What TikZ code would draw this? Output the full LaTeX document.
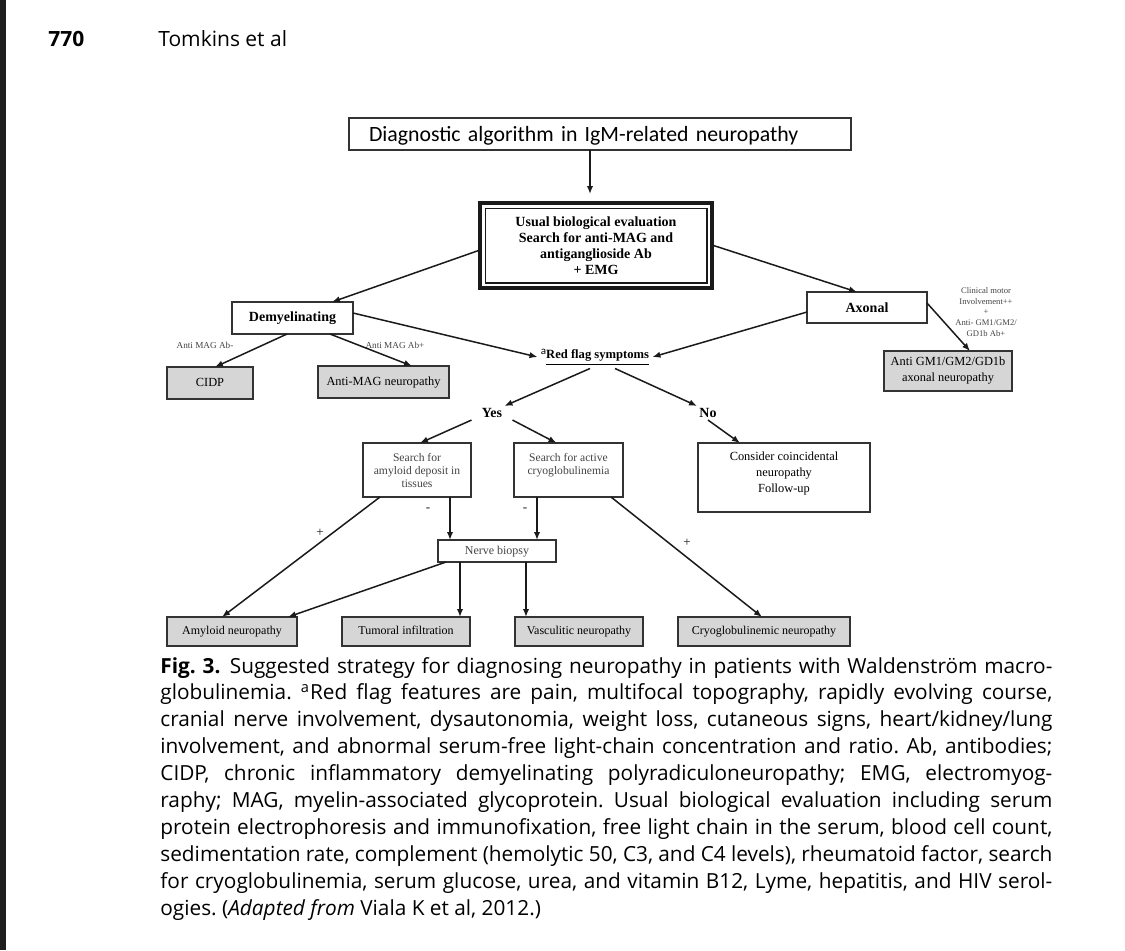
\documentclass[tikz,border=0pt]{standalone}
\usepackage{fontspec}
\setmainfont{Liberation Serif}
\newfontfamily\capfont{Open Sans}
\newfontfamily\ttlfont{Carlito}
\usetikzlibrary{arrows.meta}
\definecolor{linec}{HTML}{1A1A1A}
\definecolor{boxc}{HTML}{333333}
\definecolor{grayf}{HTML}{D6D6D6}
\definecolor{stripc}{HTML}{1E1E1E}
\definecolor{lblc}{HTML}{444444}
\newcommand{\fs}[2]{\fontsize{#1}{#2}\selectfont}
\newcommand{\capline}[1]{\makebox[446pt][s]{#1}}
\tikzset{
  ln/.style={draw=linec, line width=0.75pt},
  arr/.style={ln, -{Latex[length=4pt,width=3.2pt]}},
  wbox/.style={draw=boxc, line width=0.55pt, fill=white, inner sep=1pt, outer sep=0pt, align=center, text=black},
  gbox/.style={wbox, fill=grayf},
  bbox/.style={gbox, minimum height=14.5pt, text height=4.4pt, text depth=1.4pt, font=\fs{6}{7}},
  lbl/.style={inner sep=0.5pt, text=lblc, font=\fs{4.6}{5.5}, align=center},
  sgn/.style={inner sep=0.5pt, text=linec, font=\fs{6.5}{7}},
  capt/.style={anchor=base west, inner sep=0pt, text=black, font=\capfont\fs{10.4}{12}\frenchspacing},
}
\begin{document}
\begin{tikzpicture}[x=0.5pt,y=-0.5pt]
\useasboundingbox (0,0) rectangle (1125,950);
\fill[white] (0,0) rectangle (1125,950);
\fill[stripc] (0,0) rectangle (6,950);

% header
\node[anchor=base west, inner sep=0pt, font=\capfont\bfseries\fs{10.5}{12}] (pg) at (48,46) {770};
\node[anchor=base west, inner sep=0pt, font=\capfont\fs{10.5}{12}] (auth) at (158,46) {Tomkins et al};

% nodes
\node[wbox, minimum width=251pt, minimum height=16pt, text width=231pt, inner xsep=10pt, align=left, text depth=0pt, font=\ttlfont\fs{10.9}{12}] (title) at (600,134) {Diagnostic algorithm in IgM-related neuropathy};
\draw[boxc, line width=1.3pt] (title.north east) -- (title.south east);

\node[wbox, draw=linec, line width=1.6pt, minimum width=116pt, minimum height=42.5pt, font=\bfseries\fs{7}{8}] (usual) at (596,245.5) {Usual biological evaluation\\Search for anti-MAG and\\antiganglioside Ab\\+ EMG};
\draw[linec, line width=0.7pt] ([shift={(2.6pt,-2.6pt)}]usual.north west) rectangle ([shift={(-2.6pt,2.6pt)}]usual.south east);

\node[wbox, minimum width=60.5pt, minimum height=16pt, font=\bfseries\fs{7}{8}] (demy) at (292.5,318) {Demyelinating};
\node[wbox, minimum width=60pt, minimum height=15.5pt, font=\bfseries\fs{7}{8}] (axon) at (867,307.5) {Axonal};
\node[inner sep=1.5pt, font=\bfseries\fs{6.3}{7}] (red) at (595,357) {\raisebox{0.7ex}{\ttlfont\mdseries\fs{5.5}{6}a}\underline{Red flag symptoms}};

\node[gbox, minimum width=43pt, minimum height=16pt, text height=4.4pt, text depth=1.4pt, font=\fs{6.2}{7}] (cidp) at (210,383) {CIDP};
\node[gbox, minimum width=65.5pt, minimum height=16pt, text height=4.4pt, text depth=1.4pt, font=\fs{6.2}{7}] (amag) at (383.5,382) {Anti-MAG neuropathy};
\node[gbox, minimum width=64pt, minimum height=20pt, font=\fs{6.2}{8}] (gm) at (948,371) {Anti GM1/GM2/GD1b\\axonal neuropathy};

\node[inner sep=1pt, font=\bfseries\fs{7}{8}] (yes) at (492,413) {Yes};
\node[inner sep=1pt, font=\bfseries\fs{7}{8}] (no) at (708,413) {No};

\node[wbox, minimum width=54pt, minimum height=27pt, font=\fs{5.8}{6.5}, text=lblc] (samy) at (417,470) {Search for\\amyloid deposit in\\tissues};
\node[wbox, minimum width=54.5pt, minimum height=27pt, font=\fs{5.8}{6.5}, text=lblc] (scryo) at (568.5,470) {Search for active\\cryoglobulinemia\\\mbox{}};
\node[wbox, minimum width=86pt, minimum height=34.5pt, font=\fs{6.2}{8}] (cons) at (784,477.5) {Consider coincidental\\neuropathy\\Follow-up\\[-3pt]\mbox{}};
\node[wbox, minimum width=59pt, minimum height=11pt, text height=4.4pt, text depth=1.4pt, font=\fs{6}{7}, text=lblc] (biop) at (497,551) {Nerve biopsy};

\node[bbox, minimum width=65pt] (amyn) at (232,631.5) {Amyloid neuropathy};
\node[bbox, minimum width=64pt] (tum) at (406,631.5) {Tumoral infiltration};
\node[bbox, minimum width=64pt] (vasc) at (579,631.5) {Vasculitic neuropathy};
\node[bbox, minimum width=86pt] (cryn) at (764,631.5) {Cryoglobulinemic neuropathy};

% labels
\node[lbl] (l1) at (205,345) {Anti MAG Ab-};
\node[lbl] (l2) at (395,345) {Anti MAG Ab+};
\node[lbl, font=\fs{4.3}{5.4}] (l3) at (986,312) {Clinical motor\\Involvement++\\+\\Anti- GM1/GM2/\\GD1b Ab+};
\node[sgn] (p1) at (320,533) {+};
\node[sgn] (m1) at (428,510) {-};
\node[sgn] (m2) at (525,510) {-};
\node[sgn] (p2) at (687,543) {+};

% connectors
\draw[arr] ([xshift=-5pt]title.south) -- ([xshift=-3pt,yshift=4.5pt]usual.north);
\draw[arr] ([yshift=-2.25pt]usual.west) -- ([xshift=19.75pt]demy.north);
\draw[arr] ([yshift=0.25pt]usual.east) -- ([xshift=-5pt]axon.north);
\draw[arr] ([yshift=2.5pt]demy.east) -- (red.west);
\draw[arr] ([yshift=-2.25pt]axon.west) -- (red.east);
\draw[arr] ([xshift=-2.75pt]demy.south) -- ([xshift=2.5pt]cidp.north);
\draw[arr] ([xshift=18.75pt]demy.south) -- ([xshift=14.25pt]amag.north);
\draw[arr] ([yshift=2.25pt]axon.east) -- ([xshift=11pt]gm.north);
\draw[arr] ([xshift=-2.5pt]red.south) -- (yes.north east);
\draw[arr] ([xshift=10pt]red.south) -- (no.north west);
\draw[arr] ([xshift=-4pt]yes.south west) -- ([xshift=1.5pt]samy.north);
\draw[arr] ([xshift=4pt]yes.south east) -- ([xshift=-6pt]scryo.north);
\draw[arr] (no.south) -- ([xshift=-22pt]cons.north);
\draw[arr] ([xshift=-18.5pt]samy.south) -- ([xshift=-5pt]amyn.north);
\draw[arr] ([xshift=16.5pt]samy.south) -- ([xshift=-23.5pt]biop.north);
\draw[arr] ([xshift=-15.75pt]scryo.south) -- ([xshift=20pt]biop.north);
\draw[arr] ([xshift=21.25pt]scryo.south) -- ([xshift=-1pt]cryn.north);
\draw[arr] ([xshift=-25.5pt]biop.south) -- ([xshift=28pt]amyn.north);
\draw[arr] ([xshift=-18.5pt]biop.south) -- ([xshift=27pt]tum.north);
\draw[arr] ([xshift=14.5pt]biop.south) -- ([xshift=-26.5pt]vasc.north);

% caption
\node[capt] (c1) at (160,673) {\capline{{\bfseries Fig.~3.}\hspace{0.45em}Suggested strategy for diagnosing neuropathy in patients with Waldenström macro-}};
\node[capt] (c2) at (160,699.9) {\capline{globulinemia. \textsuperscript{a}Red flag features are pain, multifocal topography, rapidly evolving course,}};
\node[capt] (c3) at (160,726.8) {\capline{cranial nerve involvement, dysautonomia, weight loss, cutaneous signs, heart/kidney/lung}};
\node[capt] (c4) at (160,753.7) {\capline{involvement, and abnormal serum-free light-chain concentration and ratio. Ab, antibodies;}};
\node[capt] (c5) at (160,780.6) {\capline{CIDP, chronic inflammatory demyelinating polyradiculoneuropathy; EMG, electromyog-}};
\node[capt] (c6) at (160,807.5) {\capline{raphy; MAG, myelin-associated glycoprotein. Usual biological evaluation including serum}};
\node[capt] (c7) at (160,834.4) {\capline{protein electrophoresis and immunofixation, free light chain in the serum, blood cell count,}};
\node[capt] (c8) at (160,861.3) {\capline{sedimentation rate, complement (hemolytic 50, C3, and C4 levels), rheumatoid factor, search}};
\node[capt] (c9) at (160,888.2) {\capline{for cryoglobulinemia, serum glucose, urea, and vitamin B12, Lyme, hepatitis, and HIV serol-}};
\node[capt] (c10) at (160,915.1) {ogies. (\textit{Adapted from} Viala K et al, 2012.)};
\end{tikzpicture}
\end{document}
